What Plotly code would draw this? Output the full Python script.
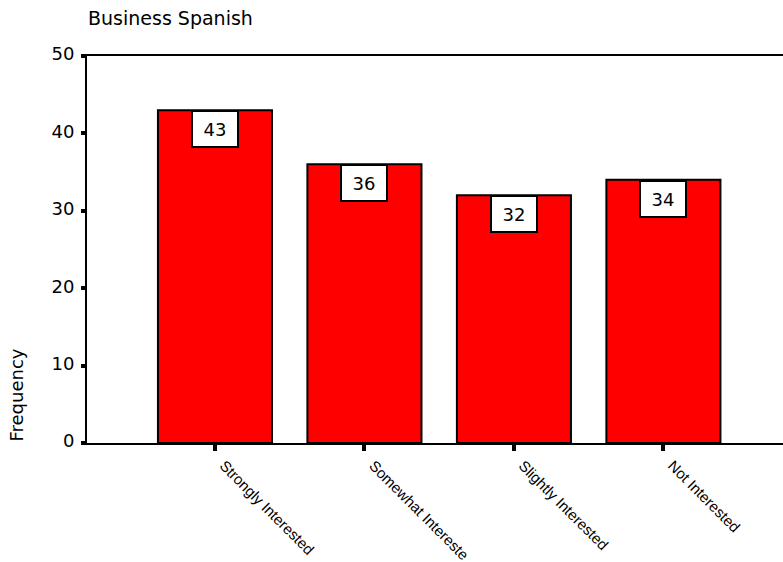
import plotly.graph_objects as go

categories = ["Strongly Interested", "Somewhat Intereste", "Slightly Interested", "Not Interested"]
frequencies = [43, 36, 32, 34]
y_tick_values = [0, 10, 20, 30, 40, 50]
y_tick_labels = ["0", "10", "20", "30", "40", "50"]
title_text = "Business Spanish"
y_title = "Frequency"

FONT = "Liberation Sans, Arial, sans-serif"
WIDE = "DejaVu Sans, sans-serif"

L, T, W, H = 87, 56, 696, 387

fig = go.Figure()
fig.add_trace(go.Bar(
    x=list(range(len(categories))),
    y=frequencies,
    width=0.763,
    marker=dict(color="#ff0000", line=dict(color="black", width=2)),
    hoverinfo="skip",
))

for i, v in enumerate(frequencies):
    fig.add_annotation(
        x=i, y=v, xref="x", yref="y", text=str(v), showarrow=False,
        yanchor="top", xanchor="center",
        font=dict(family=WIDE, size=18, color="black"),
        bgcolor="white", bordercolor="black", borderwidth=2, borderpad=2,
        width=40, height=30,
    )

fig.add_annotation(
    x=(15.5 - L) / W, y=(443 - 395) / H, xref="paper", yref="paper",
    text=y_title, showarrow=False, textangle=-90,
    font=dict(family=WIDE, size=18, color="black"),
    xanchor="center", yanchor="middle",
)

fig.update_layout(
    width=783, height=562,
    margin=dict(l=L, r=0, t=T, b=562 - T - H, autoexpand=False),
    paper_bgcolor="white", plot_bgcolor="white",
    showlegend=False,
    title=dict(text=title_text, x=88 / 783, xanchor="left", y=1 - 18 / 562, yanchor="middle",
               font=dict(family=WIDE, size=19, color="black")),
    xaxis=dict(
        range=[-0.856, 3.80],
        tickvals=list(range(len(categories))),
        ticktext=categories,
        tickangle=45,
        automargin=False,
        ticks="outside", ticklen=6, tickwidth=4, tickcolor="black",
        showline=True, linecolor="black", linewidth=2, mirror=True,
        showgrid=False, zeroline=False,
        ticklabelstandoff=0,
        ticklabelshift=9,
        tickfont=dict(family=FONT, size=15, color="black"),
    ),
    yaxis=dict(
        range=[0, 50],
        tickvals=y_tick_values,
        ticktext=y_tick_labels,
        automargin=False,
        ticks="outside", ticklen=4, tickwidth=4, tickcolor="black",
        showline=True, linecolor="black", linewidth=2,
        showgrid=False, zeroline=False,
        ticklabelshift=-2,
        ticklabelstandoff=3,
        tickfont=dict(family=WIDE, size=18, color="black"),
    ),
)

fig.write_html("out.html", config={"displayModeBar": False},
               post_script="document.body.style.margin='0';")
